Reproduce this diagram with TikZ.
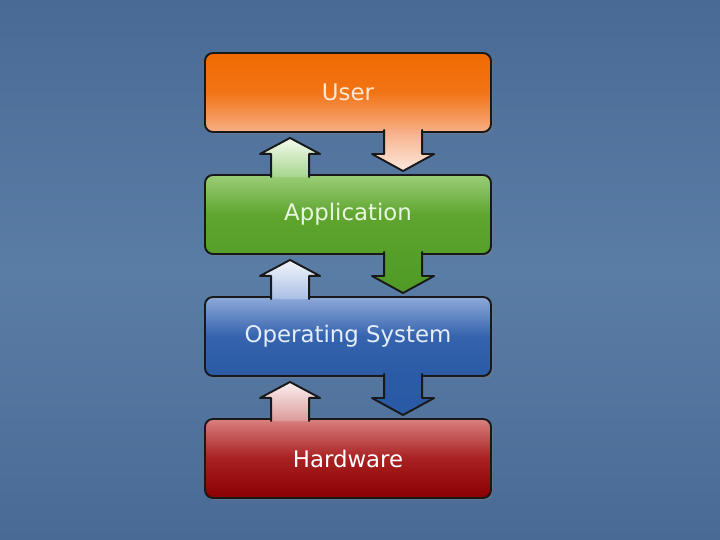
\documentclass[tikz,border=0pt]{standalone}
\usepackage{fontspec}
\setmainfont{DejaVu Sans}
\usepackage{tikz}
\usetikzlibrary{calc}
\usetikzlibrary{shadows}
\usepackage{xcolor}

% tausta
\definecolor{bgdark}{HTML}{496A94}
\definecolor{bglight}{HTML}{5A7DA6}
% laatikot
\definecolor{userTop}{HTML}{F06A00}
\definecolor{userMid}{HTML}{F27416}
\definecolor{userBot}{HTML}{F6AE86}
\definecolor{userText}{HTML}{FFE9D6}
\definecolor{appTop}{HTML}{9ACD78}
\definecolor{appMid}{HTML}{5FA52F}
\definecolor{appBot}{HTML}{56A02A}
\definecolor{appText}{HTML}{EAF7E0}
\definecolor{osTop}{HTML}{8DA9D8}
\definecolor{osMid}{HTML}{3563AE}
\definecolor{osBot}{HTML}{2B5BA6}
\definecolor{osText}{HTML}{E6EEFA}
\definecolor{hwTop}{HTML}{D98080}
\definecolor{hwMid}{HTML}{A82020}
\definecolor{hwBot}{HTML}{8B0000}
% nuolet
\definecolor{upUserA}{HTML}{A6D58C}
\definecolor{upUserB}{HTML}{F5FBF0}
\definecolor{upAppA}{HTML}{A9BFE4}
\definecolor{upAppB}{HTML}{F3F6FC}
\definecolor{upOsA}{HTML}{DC9A9A}
\definecolor{upOsB}{HTML}{FAF0F0}
\definecolor{downAppA}{HTML}{F6AE86}
\definecolor{downAppB}{HTML}{FDE9DE}
\definecolor{downOsA}{HTML}{56A02A}
\definecolor{downOsB}{HTML}{4F9A26}
\definecolor{downHwA}{HTML}{2B5BA6}
\definecolor{downHwB}{HTML}{2A5AA4}

\begin{document}
\begin{tikzpicture}[line cap=round,line join=round,x=1cm,y=1cm,
	box/.style={draw=black!90, line width=1.1pt, rounded corners=0.16cm,
		minimum width=5.72cm, minimum height=1.58cm, inner sep=0pt,
		font=\fontsize{13}{15}\selectfont,
		drop shadow={shadow xshift=0.04cm, shadow yshift=-0.05cm, opacity=0.35}},
	edge/.style={draw=black!90, line width=1.1pt}]

		%tausta
		\fill[top color=bgdark, bottom color=bgdark, middle color=bglight] (0,0) rectangle (14.4,10.8);
		\useasboundingbox (0,0) rectangle (14.4,10.8);

		%laatikot
		\node[box, top color=userTop, bottom color=userBot, middle color=userMid, text=userText] (user) at (6.96,8.95) {User};
		\node[box, top color=appTop, bottom color=appBot, middle color=appMid, text=appText] (app) at (6.96,6.51) {Application};
		\node[box, top color=osTop, bottom color=osBot, middle color=osMid, text=osText] (os) at (6.96,4.07) {Operating System};
		\node[box, top color=hwTop, bottom color=hwBot, middle color=hwMid, text=white] (hw) at (6.96,1.63) {Hardware};

		%nuolet ylos
		\foreach \lo/\hi/\ca/\cb in {app/user/upUserA/upUserB, os/app/upAppA/upAppB, hw/os/upOsA/upOsB}
		{
		\coordinate (p1) at ($(\lo.north west)+(1.34,-0.06)$);
		\coordinate (p2) at ($(\hi.south west)+(1.34,-0.42)$);
		\coordinate (p3) at ($(\hi.south west)+(1.12,-0.42)$);
		\coordinate (p4) at ($(\hi.south west)+(1.72,-0.10)$);
		\coordinate (p5) at ($(\hi.south west)+(2.32,-0.42)$);
		\coordinate (p6) at ($(\hi.south west)+(2.10,-0.42)$);
		\coordinate (p7) at ($(\lo.north west)+(2.10,-0.06)$);
		\path[top color=\cb, bottom color=\ca] (p1)--(p2)--(p3)--(p4)--(p5)--(p6)--(p7)--cycle;
		\draw[edge] (p1)--(p2)--(p3)--(p4)--(p5)--(p6)--(p7);
		}

		%nuolet alas
		\foreach \hi/\lo/\ca/\cb in {user/app/downAppA/downAppB, app/os/downOsA/downOsB, os/hw/downHwA/downHwB}
		{
		\coordinate (q1) at ($(\hi.south west)+(3.60,0.06)$);
		\coordinate (q2) at ($(\lo.north west)+(3.60,0.40)$);
		\coordinate (q3) at ($(\lo.north west)+(3.36,0.40)$);
		\coordinate (q4) at ($(\lo.north west)+(3.98,0.06)$);
		\coordinate (q5) at ($(\lo.north west)+(4.60,0.40)$);
		\coordinate (q6) at ($(\lo.north west)+(4.36,0.40)$);
		\coordinate (q7) at ($(\hi.south west)+(4.36,0.06)$);
		\path[top color=\ca, bottom color=\cb] (q1)--(q2)--(q3)--(q4)--(q5)--(q6)--(q7)--cycle;
		\draw[edge] (q1)--(q2)--(q3)--(q4)--(q5)--(q6)--(q7);
		}

	\end{tikzpicture}
\end{document}
